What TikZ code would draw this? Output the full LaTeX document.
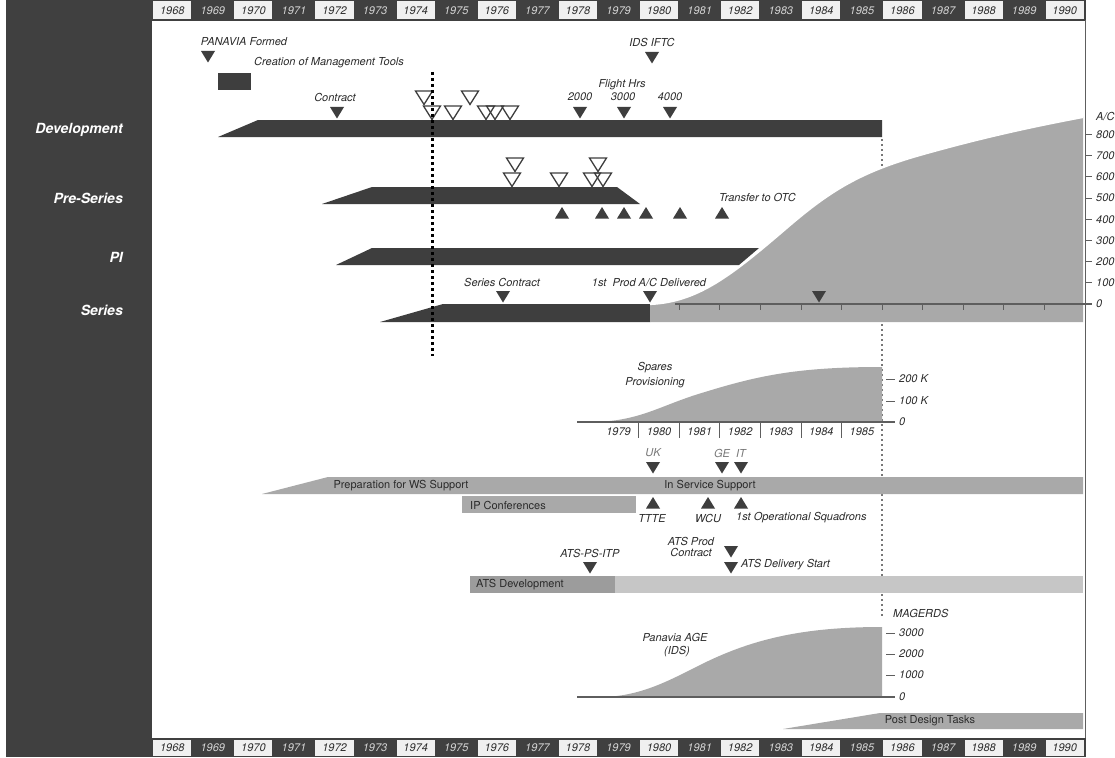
\documentclass[tikz,border=0pt]{standalone}
\usepackage{fontspec}
\setmainfont{TeX Gyre Heros}
\begin{document}
\begin{tikzpicture}[x=1pt,y=-1pt]
\definecolor{dk}{HTML}{3E3E3E}
\definecolor{panel}{HTML}{404040}
\definecolor{gfill}{HTML}{A9A9A9}
\definecolor{atsl}{HTML}{C6C6C6}
\definecolor{atsd}{HTML}{9C9C9C}
\definecolor{txt}{HTML}{2B2B2B}
\definecolor{axisc}{HTML}{5E5E5E}
\definecolor{cell}{HTML}{F0F0F0}
\definecolor{celltxt}{HTML}{D6D6D6}
\definecolor{graytxt}{HTML}{777777}
\tikzset{
  lbl/.style={font=\fontsize{11}{12}\selectfont\itshape, text=txt, inner sep=0pt},
  ulbl/.style={font=\fontsize{11}{12}\selectfont, text=txt, inner sep=0pt},
  glbl/.style={lbl, text=graytxt},
  side/.style={font=\fontsize{14}{16}\selectfont\bfseries\itshape, text=white, inner sep=0pt, anchor=east},
  yrlt/.style={font=\fontsize{11}{12}\selectfont\itshape, text=txt, inner sep=0pt},
  yrdk/.style={font=\fontsize{11}{12}\selectfont\itshape, text=celltxt, inner sep=0pt},
  axisline/.style={draw=axisc, line width=1.3pt},
  tdn/.pic={\fill[dk] (-7,0) -- (7,0) -- (0,11.5) -- cycle;},
  tup/.pic={\fill[dk] (-7,11.5) -- (7,11.5) -- (0,0) -- cycle;},
  thol/.pic={\draw[dk,line width=1.3pt,line join=miter] (-8.5,0) -- (8.5,0) -- (0,13.5) -- cycle;},
}
\useasboundingbox (0,0) rectangle (1115,757);
\fill[white] (0,0) rectangle (1115,757);
% left panel
\fill[panel] (6,0) rectangle (152,757);
% year bars
\fill[panel] (152,0) rectangle (1086,21);
\fill[panel] (152,738) rectangle (1086,757);
\foreach \i in {0,...,22}{
  \pgfmathsetmacro\xa{152+\i*40.565}
  \pgfmathsetmacro\xb{\xa+40.565}
  \pgfmathsetmacro\xc{\xa+20.28}
  \pgfmathtruncatemacro\yr{1968+\i}
  \ifodd\i\relax
    \node[yrdk] (top\i) at (\xc,10.5) {\yr};
    \node[yrdk] (bot\i) at (\xc,748) {\yr};
  \else
    \fill[cell] (\xa+1.2,1.5) rectangle (\xb-1.2,19.5);
    \fill[cell] (\xa+1.2,739.5) rectangle (\xb-1.2,756);
    \node[yrlt] (top\i) at (\xc,10.5) {\yr};
    \node[yrlt] (bot\i) at (\xc,748) {\yr};
  \fi
}
% right frame line
\draw[axisc, line width=1.5pt] (1085.5,20) -- (1085.5,738);
% side labels
\node[side] (sDev) at (123,130) {Development};
\node[side] (sPre) at (123,198) {Pre-Series};
\node[side] (sPI) at (123,257) {PI};
\node[side] (sSer) at (123,310) {Series};
% thin dotted line at end of 1985
\draw[graytxt, line width=1.2pt, dash pattern=on 2pt off 3pt] (882,139) -- (882,616);
% management
\node[lbl] (panf) at (244,42) {PANAVIA Formed};
\pic at (208,51) {tdn};
\node[lbl] (cmt) at (329,63) {Creation of Management Tools};
\fill[dk] (218,73) rectangle (251,90);
\node[lbl] (contr) at (335,97) {Contract};
\pic at (337,107) {tdn};
\node[lbl] (ids) at (652,42) {IDS IFTC};
\pic at (652,52) {tdn};
\node[lbl] (fh) at (622,85) {Flight Hrs};
\node[lbl] (h2) at (580,97) {2000};
\node[lbl] (h3) at (623,97) {3000};
\node[lbl] (h4) at (670,97) {4000};
\pic at (580,107) {tdn};
\pic at (624,107) {tdn};
\pic at (670,107) {tdn};
% development bar
\fill[dk] (218,137) -- (258,120) -- (882,120) -- (882,137) -- cycle;
\foreach \x/\y in {424/91,470/91,432/106,453/106,486/106,495/106,510/106}{\pic at (\x,\y) {thol};}
% pre-series
\fill[dk] (322,204) -- (372,187) -- (617,187) -- (640,204) -- cycle;
\foreach \x/\y in {515/158,598/158,512/173,559/173,592/173,603/173}{\pic at (\x,\y) {thol};}
\foreach \x in {562,602,624,646,680,722}{\pic at (\x,207) {tup};}
\node[lbl, anchor=west] (otc) at (719,197) {Transfer to OTC};
% PI
\fill[dk] (336,265) -- (372,248) -- (759,248) -- (739,265) -- cycle;
% series
\fill[dk] (380,322) -- (443,304) -- (650,304) -- (650,322) -- cycle;
\fill[gfill] (650,304) .. controls (700,302) and (735,272) .. (790,225) .. controls (830,191) and (860,172) .. (920,155) .. controls (980,138) and (1030,127) .. (1083,117) -- (1083,322) -- (650,322) -- cycle;
\draw[white, line width=2.2pt] (650,304) .. controls (700,302) and (735,272) .. (790,225) .. controls (830,191) and (860,172) .. (920,155) .. controls (980,138) and (1030,127) .. (1083,117);
\draw[axisline] (675,304) -- (1092,304);
\foreach \k in {13,...,22}{\draw[axisc, line width=1pt] ({152+\k*40.565},304) -- ({152+\k*40.565},310);}
\foreach \v [count=\n from 1] in {100,200,300,400,500,600,700,800}{
  \draw[axisc, line width=1pt] (1085,{304-\n*21.2}) -- (1092,{304-\n*21.2});
  \node[lbl, anchor=west] (ac\v) at (1096,{304-\n*21.2}) {\v};
}
\node[lbl, anchor=west] (ac0) at (1096,304) {0};
\node[lbl, anchor=west] (acl) at (1096,117) {A/C};
\node[lbl] (sc) at (502,282) {Series Contract};
\pic at (503,291) {tdn};
\node[lbl] (fp) at (649,282) {1st~ Prod A/C Delivered};
\pic at (650,291) {tdn};
\pic at (819,291) {tdn};
% black dotted line
\draw[black, line width=3pt, dash pattern=on 3pt off 3pt] (432,72) -- (432,356);
% spares
\fill[gfill] (590,422) .. controls (640,422) and (660,405) .. (705,392) .. controls (760,375) and (800,367) .. (882,367) -- (882,422) -- cycle;
\draw[axisline] (577,422) -- (895,422);
\foreach \k in {12,...,17}{\draw[axisc, line width=1pt] ({152+\k*40.565},422) -- ({152+\k*40.565},438);}
\foreach \k in {11,...,17}{
  \pgfmathtruncatemacro\yy{1968+\k}
  \node[lbl] (sy\k) at ({152+(\k+0.5)*40.565},432) {\yy};
}
\draw[axisc, line width=1pt] (886,401) -- (895,401);
\draw[axisc, line width=1pt] (886,379) -- (895,379);
\node[lbl, anchor=west] (sp2) at (899,379) {200 K};
\node[lbl, anchor=west] (sp1) at (899,401) {100 K};
\node[lbl, anchor=west] (sp0) at (899,422) {0};
\node[lbl] (spa) at (655,368) {Spares};
\node[lbl] (spb) at (655,383) {Provisioning};
% in service support
\node[glbl] (uk) at (653,453) {UK};
\node[glbl] (ge) at (722,453) {GE};
\node[glbl] (it) at (741,453) {IT};
\foreach \x in {653,722,741}{\pic at (\x,462) {tdn};}
\fill[gfill] (262,494) -- (328,477) -- (1083,477) -- (1083,494) -- cycle;
\node[ulbl] (prep) at (401,486) {Preparation for WS Support};
\node[ulbl] (iss) at (710,486) {In Service Support};
\fill[gfill] (462,496) rectangle (636,513);
\node[ulbl, anchor=west] (ipc) at (470,505) {IP Conferences};
\foreach \x in {653,708,741}{\pic at (\x,497) {tup};}
\node[lbl] (ttte) at (652,518) {TTTE};
\node[lbl] (wcu) at (708,518) {WCU};
\node[lbl, anchor=west] (fos) at (736,518) {1st Operational Squadrons};
% ATS
\node[lbl, align=center] (atsp) at (691,547) {ATS Prod\\[-0.5pt]Contract};
\pic at (731,546) {tdn};
\pic at (731,562) {tdn};
\node[lbl, anchor=west] (atsd) at (741,565) {ATS Delivery Start};
\node[lbl] (atsi) at (590,553) {ATS-PS-ITP};
\pic at (590,562) {tdn};
\fill[atsl] (470,576) rectangle (1083,593);
\fill[atsd] (470,576) rectangle (615,593);
\node[ulbl, anchor=west] (atsdev) at (476,585) {ATS Development};
% AGE
\fill[gfill] (600,697) .. controls (640,697) and (670,680) .. (700,665) .. controls (750,640) and (800,627) .. (882,627) -- (882,697) -- cycle;
\draw[axisline] (577,697) -- (895,697);
\foreach \y/\v in {633/3000,654/2000,675/1000}{
  \draw[axisc, line width=1pt] (886,\y) -- (895,\y);
  \node[lbl, anchor=west] (ag\v) at (899,\y) {\v};
}
\node[lbl, anchor=west] (ag0) at (899,697) {0};
\node[lbl, anchor=west] (mag) at (893,613) {MAGERDS};
\node[lbl] (agea) at (675,637) {Panavia AGE};
\node[lbl] (ageb) at (677,652) {(IDS)};
% post design
\fill[gfill] (783,729) -- (880,713) -- (1083,713) -- (1083,729) -- cycle;
\node[ulbl] (pdt) at (930,721) {Post Design Tasks};
\end{tikzpicture}
\end{document}
